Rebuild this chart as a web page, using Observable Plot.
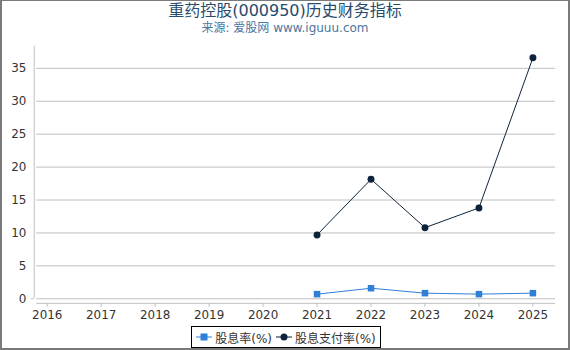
<!DOCTYPE html>
<html>
<head>
<meta charset="utf-8">
<script src="https://cdn.jsdelivr.net/npm/d3@7"></script>
<script src="https://cdn.jsdelivr.net/npm/@observablehq/plot@0.6"></script>
<style>
  html, body { margin: 0; padding: 0; background: #fff; }
  #wrap { position: relative; width: 570px; height: 350px; box-sizing: border-box; border: 2px solid #7a7a7a; border-top-width: 1px; overflow: hidden; font-family: "DejaVu Sans", "Noto Sans CJK SC", sans-serif; }
  #title { position: absolute; left: 0; width: 566px; top: 0px; text-align: center; font-size: 16px; color: #274b6d; line-height: 20px; white-space: nowrap; }
  #subtitle { position: absolute; left: 0; width: 566px; top: 19px; text-align: center; font-size: 12px; color: #4d759e; line-height: 16px; white-space: nowrap; }
  #chart { position: absolute; left: -2px; top: -1px; }
  #legend { position: absolute; left: 189px; top: 325px; width: 190px; height: 22px; box-sizing: border-box; border: 1px solid #000; display: flex; align-items: center; justify-content: center; font-size: 12px; color: #333; white-space: nowrap; }
  .item { display: flex; align-items: center; margin: 0 2px; flex: none; }
  .item svg { margin-right: 3px; }
</style>
</head>
<body>
<div id="wrap">
  <div id="title"></div>
  <div id="subtitle"></div>
  <div id="chart"></div>
  <div id="legend"></div>
</div>
<script>
const titleText = "重药控股(000950)历史财务指标";
const subtitleText = "来源: 爱股网 www.iguuu.com";
const years = [2016, 2017, 2018, 2019, 2020, 2021, 2022, 2023, 2024, 2025];
const yTicks = [0, 5, 10, 15, 20, 25, 30, 35];
const seriesNames = ["股息率(%)", "股息支付率(%)"];
const seriesColors = ["#2f7ed8", "#0d233a"];
const dataYears = [2021, 2022, 2023, 2024, 2025];
const dividendYield = [0.7, 1.6, 0.85, 0.7, 0.85];
const payoutRatio = [9.7, 18.15, 10.8, 13.8, 36.6];

document.getElementById("title").textContent = titleText;
document.getElementById("subtitle").textContent = subtitleText;

const yieldRows = dataYears.map((y, i) => ({year: y, value: dividendYield[i]}));
const payoutRows = dataYears.map((y, i) => ({year: y, value: payoutRatio[i]}));

const xMin = 2015.76, xMax = 2025.42, yMin = -0.7, yMax = 38.37;
const pxPerYear = (559 - 34) / (xMax - xMin);

const chart = Plot.plot({
  width: 572,
  height: 335,
  marginTop: 46,
  marginBottom: 30,
  marginLeft: 34,
  marginRight: 13,
  style: {fontFamily: "DejaVu Sans, Noto Sans CJK SC, sans-serif", fontSize: "12px", color: "#333", background: "transparent", overflow: "visible"},
  x: {domain: [xMin, xMax], label: null},
  y: {domain: [yMin, yMax], label: null},
  marks: [
    Plot.ruleY(yTicks, {x1: xMin + 2.5 / pxPerYear, x2: xMax, stroke: "#c0c0c0", strokeWidth: 1}),
    Plot.ruleX([xMin], {y1: 0, y2: yMax, stroke: "#c0c0c0"}),
    Plot.ruleY([0], {x1: xMin - 3 / pxPerYear, x2: xMin, stroke: "#c0c0c0"}),
    Plot.ruleY([yMin], {x1: xMin + 2.5 / pxPerYear, x2: xMax, stroke: "#c0c0c0"}),
    Plot.axisY({ticks: yTicks, tickSize: 0, tickPadding: 8, tickFormat: d => String(d), fill: "#333", fontSize: 12, label: null}),
    Plot.axisX({ticks: years, tickSize: 4, tickPadding: 3, tickFormat: d => String(d), stroke: "#c0c0c0", fill: "#333", fontSize: 12, label: null}),
    Plot.line(yieldRows, {x: "year", y: "value", stroke: seriesColors[0], strokeWidth: 1}),
    Plot.dot(yieldRows, {x: "year", y: "value", symbol: "square", r: 3.7, fill: seriesColors[0], stroke: "none"}),
    Plot.line(payoutRows, {x: "year", y: "value", stroke: seriesColors[1], strokeWidth: 1}),
    Plot.dot(payoutRows, {x: "year", y: "value", symbol: "circle", r: 3.5, fill: seriesColors[1], stroke: "none"})
  ]
});
document.getElementById("chart").appendChild(chart);

const legend = document.getElementById("legend");
seriesNames.forEach((name, i) => {
  const item = document.createElement("div");
  item.className = "item";
  const marker = i === 0
    ? `<rect x="4.5" y="3.5" width="7" height="7" fill="${seriesColors[0]}"/>`
    : `<circle cx="8" cy="7" r="3.5" fill="${seriesColors[1]}"/>`;
  item.innerHTML = `<svg width="16" height="14"><line x1="0" x2="16" y1="7" y2="7" stroke="${seriesColors[i]}" stroke-width="1"/>${marker}</svg><span>${name}</span>`;
  legend.appendChild(item);
});
</script>
</body>
</html>
